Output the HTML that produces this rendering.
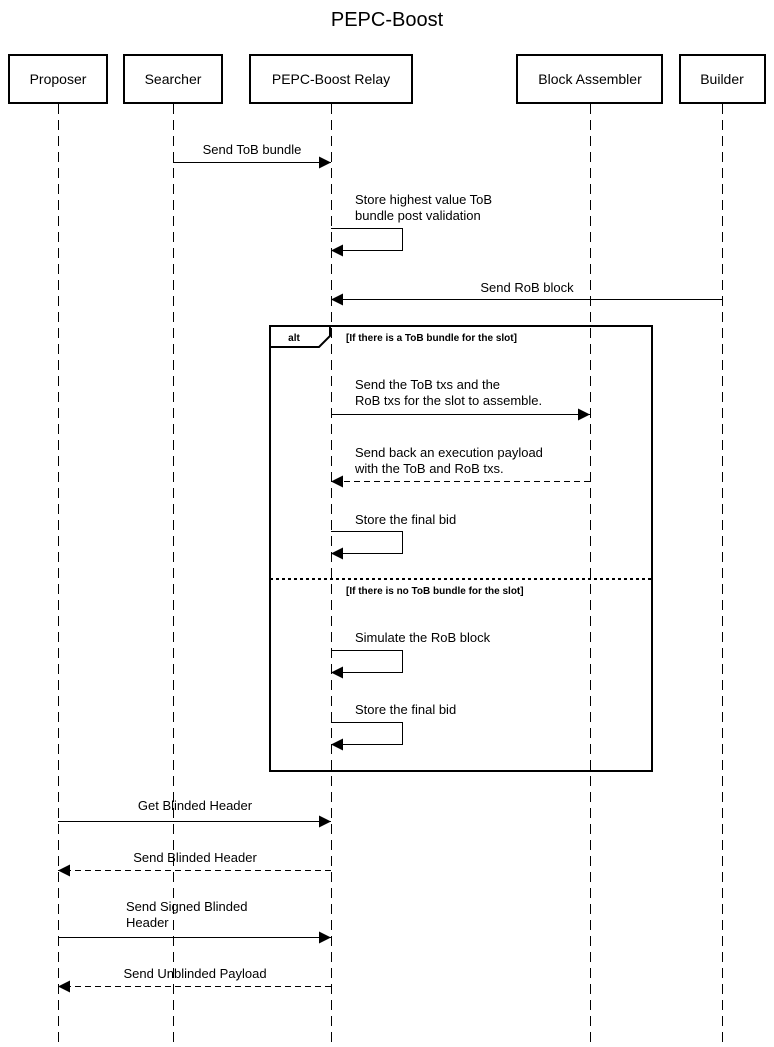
<!DOCTYPE html>
<html><head><meta charset="utf-8"><style>html,body{margin:0;padding:0;background:#fff}svg{display:block}text{font-family:"Liberation Sans",Arial,sans-serif}</style></head><body>
<svg width="774" height="1047" viewBox="0 0 774 1047" xmlns="http://www.w3.org/2000/svg">
<defs>
<marker id="a" markerWidth="12" markerHeight="12" refX="12" refY="6" orient="auto" markerUnits="userSpaceOnUse"><path d="M0,0 L12,6 L0,12 z" fill="#000"/></marker>
</defs>
<rect width="774" height="1047" fill="#fff"/>
<text x="387" y="26" font-size="20" text-anchor="middle">PEPC-Boost</text>
<g stroke="#000" stroke-width="1" stroke-dasharray="10,6">
<line x1="58.5" y1="104" x2="58.5" y2="1047"/>
<line x1="173.5" y1="104" x2="173.5" y2="1047"/>
<line x1="331.5" y1="104" x2="331.5" y2="1047"/>
<line x1="590.5" y1="104" x2="590.5" y2="1047"/>
<line x1="722.5" y1="104" x2="722.5" y2="1047"/>
</g>
<g fill="#fff" stroke="#000" stroke-width="2">
<rect x="9" y="55" width="98" height="48"/>
<rect x="124" y="55" width="98" height="48"/>
<rect x="250" y="55" width="162" height="48"/>
<rect x="517" y="55" width="145" height="48"/>
<rect x="680" y="55" width="85" height="48"/>
</g>
<g font-size="14" text-anchor="middle">
<text x="58" y="84">Proposer</text>
<text x="173" y="84">Searcher</text>
<text x="331" y="84">PEPC-Boost Relay</text>
<text x="590" y="84">Block Assembler</text>
<text x="722" y="84">Builder</text>
</g>
<g font-size="13">
<text x="252" y="154" text-anchor="middle">Send ToB bundle</text>
<text x="355" y="204">Store highest value ToB</text>
<text x="355" y="220">bundle post validation</text>
<text x="527" y="292" text-anchor="middle">Send RoB block</text>
<text x="355" y="389">Send the ToB txs and the</text>
<text x="355" y="405">RoB txs for the slot to assemble.</text>
<text x="355" y="457">Send back an execution payload</text>
<text x="355" y="473">with the ToB and RoB txs.</text>
<text x="355" y="524">Store the final bid</text>
<text x="355" y="642">Simulate the RoB block</text>
<text x="355" y="714">Store the final bid</text>
<text x="195" y="810" text-anchor="middle">Get Blinded Header</text>
<text x="195" y="862" text-anchor="middle">Send Blinded Header</text>
<text x="126" y="911">Send Signed Blinded</text>
<text x="126" y="927">Header</text>
<text x="195" y="978" text-anchor="middle">Send Unblinded Payload</text>
</g>
<g stroke="#000" stroke-width="1" fill="none">
<line x1="173" y1="162.5" x2="331" y2="162.5" marker-end="url(#a)"/>
<polyline points="331,228.5 402.5,228.5 402.5,250.5 331,250.5" marker-end="url(#a)"/>
<line x1="722" y1="299.5" x2="331" y2="299.5" marker-end="url(#a)"/>
<line x1="331" y1="414.5" x2="590" y2="414.5" marker-end="url(#a)"/>
<line x1="590" y1="481.5" x2="331" y2="481.5" stroke-dasharray="6,4" marker-end="url(#a)"/>
<polyline points="331,531.5 402.5,531.5 402.5,553.5 331,553.5" marker-end="url(#a)"/>
<polyline points="331,650.5 402.5,650.5 402.5,672.5 331,672.5" marker-end="url(#a)"/>
<polyline points="331,722.5 402.5,722.5 402.5,744.5 331,744.5" marker-end="url(#a)"/>
<line x1="58" y1="821.5" x2="331" y2="821.5" marker-end="url(#a)"/>
<line x1="331" y1="870.5" x2="58" y2="870.5" stroke-dasharray="6,4" marker-end="url(#a)"/>
<line x1="58" y1="937.5" x2="331" y2="937.5" marker-end="url(#a)"/>
<line x1="331" y1="986.5" x2="58" y2="986.5" stroke-dasharray="6,4" marker-end="url(#a)"/>
</g>
<rect x="270" y="326" width="382" height="445" fill="none" stroke="#000" stroke-width="2"/>
<path d="M270,347 L319,347 L330,336 L330,326" fill="none" stroke="#000" stroke-width="2"/>
<line x1="270" y1="579" x2="652" y2="579" stroke="#000" stroke-width="2" stroke-dasharray="3,3"/>
<g font-size="10" font-weight="bold">
<text x="294" y="341" text-anchor="middle">alt</text>
<text x="346" y="341">[If there is a ToB bundle for the slot]</text>
<text x="346" y="594">[If there is no ToB bundle for the slot]</text>
</g>
</svg>
</body></html>
